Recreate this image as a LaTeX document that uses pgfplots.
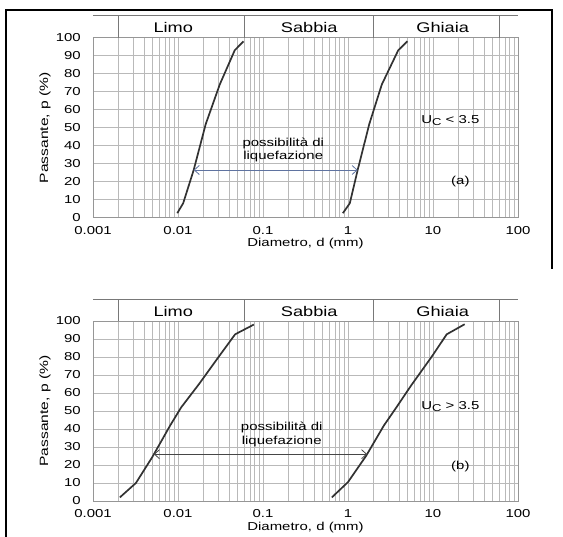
\documentclass[border=0pt]{standalone}
\usepackage{fontspec}
\setmainfont{Liberation Sans}
\usepackage{graphicx}
\usepackage{pgfplots}
\pgfplotsset{compat=1.18}
\usetikzlibrary{arrows.meta}
\newcommand{\W}[1]{\scalebox{1.3}[1]{#1}}
\definecolor{gridc}{RGB}{185,185,185}
\definecolor{framec}{RGB}{150,150,150}
\definecolor{curvec}{RGB}{50,50,50}
\definecolor{arrowa}{RGB}{95,115,160}
\definecolor{arrowb}{RGB}{70,70,70}
\tikzset{
  myband/.style={draw=framec!80!black, line width=0.6pt},
  mybandlab/.style={font=\fontsize{14}{16}\selectfont, anchor=center},
  mynote/.style={font=\fontsize{11.5}{13.5}\selectfont, anchor=center},
}
\begin{document}
\begin{tikzpicture}
\useasboundingbox (0,0) rectangle (563pt,537pt);
% scan frame
\draw[black, line width=2pt] (6pt,0pt) -- (6pt,527pt) -- (552pt,527pt) -- (552pt,268pt);

% ---------- (a) ----------
\begin{axis}[
    at={(93pt,319.3pt)}, anchor=south west,
    xmode=log, log basis x=10,
    scale only axis, width=425pt, height=180pt,
    xmin=0.001, xmax=100, ymin=0, ymax=100,
    xtick={0.001,0.01,0.1,1,10,100},
    xticklabels={\W{0.001},\W{0.01},\W{0.1},\W{1},\W{10},\W{100}},
    minor xtick={0.002,0.003,0.004,0.005,0.006,0.007,0.008,0.009,
                 0.02,0.03,0.04,0.05,0.06,0.07,0.08,0.09,
                 0.2,0.3,0.4,0.5,0.6,0.7,0.8,0.9,
                 2,3,4,5,6,7,8,9,
                 20,30,40,50,60,70,80,90},
    ytick={0,10,...,100},
    yticklabels={\W{0},\W{10},\W{20},\W{30},\W{40},\W{50},\W{60},\W{70},\W{80},\W{90},\W{100}},
    major tick length=0pt, minor tick length=0pt,
    xmajorgrids, xminorgrids, ymajorgrids,
    major grid style={gridc, line width=0.6pt},
    minor grid style={gridc, line width=0.6pt},
    axis line style={framec, line width=0.6pt},
    tick label style={font=\fontsize{11.5}{13}\selectfont, inner sep=0pt},
    xticklabel style={anchor=center, yshift=-13pt},
    yticklabel style={anchor=east, xshift=-12pt},
    xlabel={\W{Diametro, d (mm)}},
    ylabel={\W{Passante, p (\%)}},
    xlabel style={at={(axis description cs:0.5,-0.145)}, anchor=center, font=\fontsize{11.5}{13}\selectfont},
    ylabel style={at={(axis description cs:-0.113,0.5)}, anchor=center, rotate=0, font=\fontsize{12}{14}\selectfont},
    clip=false,
]
\draw[myband] (axis cs:0.001,112.2) -- (axis cs:100,112.2);
\draw[myband] (axis cs:0.002,100) -- (axis cs:0.002,112.2);
\draw[myband] (axis cs:0.06,100) -- (axis cs:0.06,112.2);
\draw[myband] (axis cs:2,100) -- (axis cs:2,112.2);
\draw[myband] (axis cs:60,100) -- (axis cs:60,112.2);
\node[mybandlab] at (axis cs:0.0088,105.8) {\W{Limo}};
\node[mybandlab] at (axis cs:0.35,105.8) {\W{Sabbia}};
\node[mybandlab] at (axis cs:13,105.8) {\W{Ghiaia}};

\addplot[curvec, line width=1.7pt, mark=none, line join=round] coordinates {(0.0098,2.5) (0.0115,8) (0.0153,26.5) (0.0212,52) (0.031,74) (0.0465,93) (0.059,98)};
\addplot[curvec, line width=1.7pt, mark=none, line join=round] coordinates {(0.87,2.5) (1.05,8) (1.3,26.5) (1.78,52) (2.5,74) (3.9,93) (5.0,98)};
\addplot[arrowa, line width=0.8pt, mark=none, {Straight Barb[length=5pt,width=9pt]}-{Straight Barb[length=5pt,width=9pt]}] coordinates {(0.0153,26.5) (1.3,26.5)};

\node[mynote, align=center] at (axis cs:0.173,37.6) {\W{possibilità di}\\\W{liquefazione}};
\node[mynote] at (axis cs:16,54) {\W{U\raisebox{-0.35ex}{\fontsize{10}{10}\selectfont C} < 3.5}};
\node[mynote] at (axis cs:21,20) {\W{(a)}};
\end{axis}

% ---------- (b) ----------
\begin{axis}[
    at={(93pt,36pt)}, anchor=south west,
    xmode=log, log basis x=10,
    scale only axis, width=425pt, height=180pt,
    xmin=0.001, xmax=100, ymin=0, ymax=100,
    xtick={0.001,0.01,0.1,1,10,100},
    xticklabels={\W{0.001},\W{0.01},\W{0.1},\W{1},\W{10},\W{100}},
    minor xtick={0.002,0.003,0.004,0.005,0.006,0.007,0.008,0.009,
                 0.02,0.03,0.04,0.05,0.06,0.07,0.08,0.09,
                 0.2,0.3,0.4,0.5,0.6,0.7,0.8,0.9,
                 2,3,4,5,6,7,8,9,
                 20,30,40,50,60,70,80,90},
    ytick={0,10,...,100},
    yticklabels={\W{0},\W{10},\W{20},\W{30},\W{40},\W{50},\W{60},\W{70},\W{80},\W{90},\W{100}},
    major tick length=0pt, minor tick length=0pt,
    xmajorgrids, xminorgrids, ymajorgrids,
    major grid style={gridc, line width=0.6pt},
    minor grid style={gridc, line width=0.6pt},
    axis line style={framec, line width=0.6pt},
    tick label style={font=\fontsize{11.5}{13}\selectfont, inner sep=0pt},
    xticklabel style={anchor=center, yshift=-13pt},
    yticklabel style={anchor=east, xshift=-12pt},
    xlabel={\W{Diametro, d (mm)}},
    ylabel={\W{Passante, p (\%)}},
    xlabel style={at={(axis description cs:0.5,-0.145)}, anchor=center, font=\fontsize{11.5}{13}\selectfont},
    ylabel style={at={(axis description cs:-0.113,0.5)}, anchor=center, rotate=0, font=\fontsize{12}{14}\selectfont},
    clip=false,
]
\draw[myband] (axis cs:0.001,112.2) -- (axis cs:100,112.2);
\draw[myband] (axis cs:0.002,100) -- (axis cs:0.002,112.2);
\draw[myband] (axis cs:0.06,100) -- (axis cs:0.06,112.2);
\draw[myband] (axis cs:2,100) -- (axis cs:2,112.2);
\draw[myband] (axis cs:60,100) -- (axis cs:60,112.2);
\node[mybandlab] at (axis cs:0.0088,105.5) {\W{Limo}};
\node[mybandlab] at (axis cs:0.35,105.5) {\W{Sabbia}};
\node[mybandlab] at (axis cs:13,105.5) {\W{Ghiaia}};

\addplot[curvec, line width=1.7pt, mark=none, line join=round] coordinates {(0.00207,2) (0.0032,10) (0.005,24.5) (0.0081,42) (0.0109,52) (0.0177,65) (0.030,80) (0.047,92.6) (0.078,98)};
\addplot[curvec, line width=1.7pt, mark=none, line join=round] coordinates {(0.646,2) (1.0,10.5) (1.63,25) (2.65,42) (3.71,52) (5.5,64) (9.8,80.6) (14.5,92.6) (23.6,98.2)};
\addplot[arrowb, line width=0.8pt, mark=none, {Straight Barb[length=5pt,width=9pt]}-{Straight Barb[length=5pt,width=9pt]}] coordinates {(0.0052,26) (1.68,26)};

\node[mynote, align=center] at (axis cs:0.166,37) {\W{possibilità di}\\\W{liquefazione}};
\node[mynote] at (axis cs:16,52.5) {\W{U\raisebox{-0.35ex}{\fontsize{10}{10}\selectfont C} > 3.5}};
\node[mynote] at (axis cs:21,19) {\W{(b)}};
\end{axis}
\end{tikzpicture}
\end{document}
